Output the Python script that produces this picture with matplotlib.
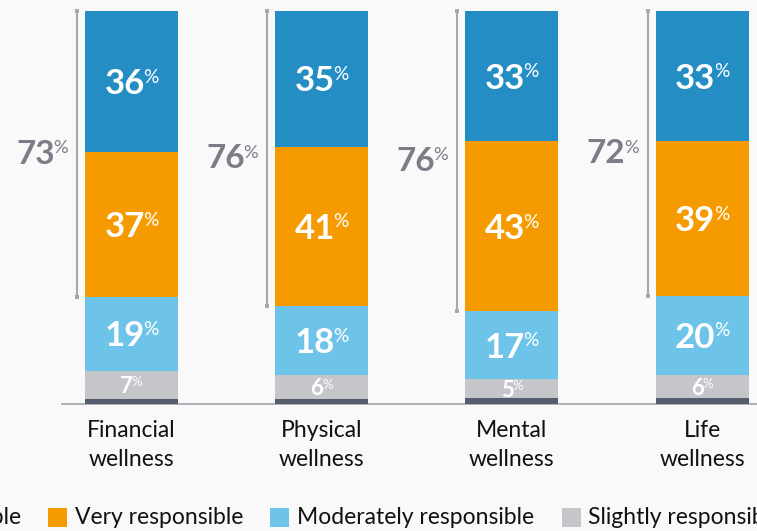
import matplotlib
matplotlib.use("Agg")
import matplotlib.pyplot as plt
from matplotlib.patches import Rectangle
from matplotlib.transforms import offset_copy
import numpy as np

FONT = ['Lato', 'DejaVu Sans']
plt.rcParams['font.family'] = FONT

categories = ['Financial\nwellness', 'Physical\nwellness', 'Mental\nwellness', 'Life\nwellness']
extremely = [36, 35, 33, 33]
very = [37, 41, 43, 39]
moderately = [19, 18, 17, 20]
slightly = [7, 6, 5, 6]
not_at_all = [1.4, 1.4, 1.4, 1.4]

series = [
    ('Not at all responsible', not_at_all, '#545c6d'),
    ('Slightly responsible', slightly, '#c5c6ca'),
    ('Moderately responsible', moderately, '#6ec3e8'),
    ('Very responsible', very, '#f59b00'),
    ('Extremely responsible', extremely, '#238dc4'),
]
legend_order = ['Extremely responsible', 'Very responsible', 'Moderately responsible',
                'Slightly responsible', 'Not at all responsible']

BG = '#f9f9f9'
W, H, DPI = 757, 531, 100
fig = plt.figure(figsize=(W / DPI, H / DPI), dpi=DPI, facecolor=BG)
ax = fig.add_axes([0, 0, 1, 1])
ax.set_facecolor(BG)
ax.axis('off')

# pixel layout -> data limits
step = 190.17
x0_px = 131.5
base_px = 404
px_per_unit = 3.93
ax.set_xlim(-x0_px / step, (W - x0_px) / step)
ax.set_ylim(-(H - base_px) / px_per_unit, base_px / px_per_unit)

x = np.arange(len(categories))
width = 0.489
totals = np.sum([np.array(s[1], float) for s in series], axis=0)
scale = 100.0 / totals

bottoms = np.zeros(len(categories))
seg_pos = {}
for name, vals, color in series:
    h = np.array(vals, float) * scale
    ax.bar(x, h, width, bottom=bottoms, color=color, linewidth=0, zorder=2)
    seg_pos[name] = (bottoms.copy(), h)
    bottoms = bottoms + h

ax.plot([(-x0_px + 61) / step, (W - x0_px) / step], [0, 0], color='#a9abb0', lw=1.3,
        zorder=1, solid_capstyle='butt')

renderer = fig.canvas.get_renderer()


def pct_label(xd, yd, num, size, color, weight='bold', align='center', pct_ratio=0.55):
    pt2px = DPI / 72.0
    cap = 0.72 * size * pt2px
    small = size * pct_ratio
    cap_s = 0.72 * small * pt2px
    t1 = ax.text(xd, yd, str(num), fontsize=size, fontweight=weight, color=color,
                 ha='left', va='baseline', zorder=5)
    t2 = ax.text(xd, yd, '%', fontsize=small, color=color, ha='left', va='baseline', zorder=5)
    w1 = t1.get_window_extent(renderer).width
    w2 = t2.get_window_extent(renderer).width
    gap = -1.5
    total = w1 + gap + w2
    start = -total / 2 if align == 'center' else -total
    t1.set_transform(offset_copy(ax.transData, fig, x=start, y=-cap / 2, units='dots'))
    t2.set_transform(offset_copy(ax.transData, fig, x=start + w1 + gap,
                                 y=-cap / 2 + cap - cap_s, units='dots'))


# segment labels
for name, vals, color in series:
    if name == 'Not at all responsible':
        continue
    b, h = seg_pos[name]
    size = 16 if name == 'Slightly responsible' else 25
    for i, v in enumerate(vals):
        pct_label(x[i], b[i] + h[i] / 2, v, size, 'white', pct_ratio=0.6 if size == 16 else 0.55)

# brackets over very + extremely responsible
bx_off = 8 / step
for i in range(len(categories)):
    bottom = seg_pos['Very responsible'][0][i]
    bx = x[i] - width / 2 - bx_off
    ax.plot([bx, bx], [bottom, 100], color='#a7a8ae', lw=1.5, zorder=3,
            marker='s', markersize=3.2, markeredgewidth=0)
    combined = extremely[i] + very[i]
    pct_label(bx - 9 / step, (bottom + 100) / 2 + 0.5, combined, 24, '#7b7d87', align='right')

# category labels
for i, c in enumerate(categories):
    ax.text(x[i], -(420 - base_px) / px_per_unit, c, fontsize=16.5, color='#111111',
            ha='center', va='top', linespacing=1.45)

# legend drawn along the bottom edge
colors = {n: c for n, _, c in series}
sq = 19
gap_txt = 8
gap_item = 27
y_c = 517
fs = 16.5
x_cur = 48  # square of "Very responsible"
items = []
widths = {}
for n in legend_order:
    t = fig.text(0, 0, n, fontsize=fs, color='#111111', ha='left', va='center')
    widths[n] = t.get_window_extent(renderer).width
    items.append((n, t))
# place the first item so it ends left of the second one
first = legend_order[0]
pos = {}
pos[first] = x_cur - gap_item - widths[first] - gap_txt - sq
cur = x_cur
for n in legend_order[1:]:
    pos[n] = cur
    cur += sq + gap_txt + widths[n] + gap_item
for n, t in items:
    px = pos[n]
    fig.patches.append(Rectangle((px / W, (H - y_c - sq / 2) / H), sq / W, sq / H,
                                 transform=fig.transFigure, color=colors[n], lw=0))
    t.set_position(((px + sq + gap_txt) / W, (H - y_c) / H))

fig.savefig('out.png', dpi=DPI, facecolor=BG)
